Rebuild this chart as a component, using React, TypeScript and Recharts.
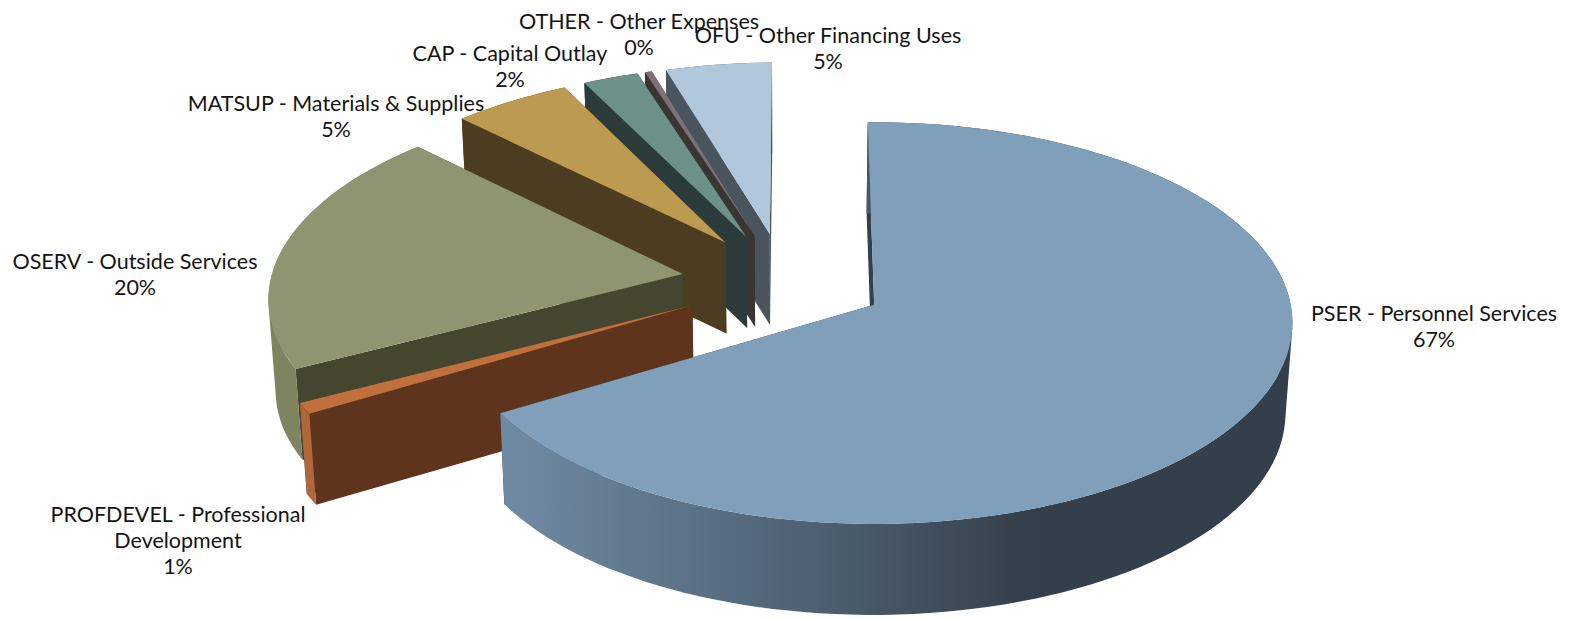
import React from "react";
import { PieChart, Pie } from "recharts";

// Listed back to front: the pie runs counter-clockwise from the top, so
// later slices paint over earlier ones.
const categories = [
  "OFU - Other Financing Uses",
  "OTHER - Other Expenses",
  "CAP - Capital Outlay",
  "MATSUP - Materials & Supplies",
  "OSERV - Outside Services",
  "PROFDEVEL - Professional\nDevelopment",
  "PSER - Personnel Services",
];
const shares = [4.6, 0.3, 2.4, 5.1, 20.1, 0.9, 66.6];

const topColors = ["#b1c7dc", "#7d7076", "#6b9188", "#bc9b50", "#8f9570", "#c0703c", "#7f9fba"];
const wallColors = ["#49545f", "#393533", "#2b3b39", "#4c3d20", "#44462f", "#5f341d", "#333f4a"];
const rimColors = ["#49545f", "#393533", "#2b3b39", "#4c3d20", "#7e8360", "#b0683a", "url(#pserRim)"];

// label centre for each slice, first line
const labelX = [828, 639, 510, 336, 135, 178, 1434];
const labelY = [38, 24, 56, 106, 264, 517, 316];

const CX = 784;
const CY = 281;
const RADIUS = 412;
const SQUASH = 0.473;
const PERSPECTIVE = 0.09;
const EXPLODE = 0.25;
const VANISH_X = 0.225;
const WALL = 91;
const WALL_SHRINK = 0.986;
const WALL_VANISH = 790;

type Pt = [number, number];

const project = (wx: number, wz: number, lower: boolean): Pt => {
  const s = 1 / (1 - PERSPECTIVE * wz);
  let x = CX + RADIUS * VANISH_X + RADIUS * (wx - VANISH_X) * s;
  let y = CY + RADIUS * SQUASH * wz * s;
  if (lower) {
    x = WALL_VANISH + (x - WALL_VANISH) * WALL_SHRINK;
    y += WALL;
  }
  return [x, y];
};

const toPath = (pts: Pt[]) =>
  "M" + pts.map((p) => `${p[0].toFixed(1)},${p[1].toFixed(1)}`).join("L") + "Z";

// same winding for every quad, so a nonzero fill never cancels an overlap
const clockwise = (pts: Pt[]) => {
  let area = 0;
  pts.forEach((p, i) => {
    const q = pts[(i + 1) % pts.length];
    area += p[0] * q[1] - q[0] * p[1];
  });
  return area < 0 ? [...pts].reverse() : pts;
};

function Slice3D(props: any) {
  const { startAngle, endAngle, index } = props;
  const mid = ((startAngle + endAngle) / 2) * (Math.PI / 180);
  const ox = Math.cos(mid) * EXPLODE;
  const oz = -Math.sin(mid) * EXPLODE;

  // sample the arc of this slice
  const steps = Math.max(2, Math.ceil(Math.abs(endAngle - startAngle) / 2));
  const arc = (lower: boolean) => {
    const pts: Pt[] = [];
    for (let i = 0; i <= steps; i++) {
      const a = (startAngle + ((endAngle - startAngle) * i) / steps) * (Math.PI / 180);
      pts.push(project(ox + Math.cos(a), oz - Math.sin(a), lower));
    }
    return pts;
  };

  const topArc = arc(false);
  const lowArc = arc(true);
  const apexTop = project(ox, oz, false);
  const apexLow = project(ox, oz, true);
  const wall = wallColors[index];

  // rim as a strip of quads, so its side follows the silhouette
  const rimPath = topArc
    .slice(0, steps)
    .map((p, i) => toPath(clockwise([p, topArc[i + 1], lowArc[i + 1], lowArc[i]])))
    .join("");

  return (
    <g>
      <defs>
        <linearGradient id="pserRim" gradientUnits="userSpaceOnUse" x1={502} y1={0} x2={1040} y2={0}>
          <stop offset="0" stopColor="#6f8ba3" />
          <stop offset="0.45" stopColor="#566a7d" />
          <stop offset="1" stopColor="#333f4a" />
        </linearGradient>
      </defs>
      <path d={toPath([apexTop, topArc[0], lowArc[0], apexLow])} fill={wall} />
      <path d={toPath([apexTop, topArc[steps], lowArc[steps], apexLow])} fill={wall} />
      <path d={rimPath} fill={rimColors[index]} />
      <path d={toPath([apexTop, ...topArc])} fill={topColors[index]} />
    </g>
  );
}

function SliceLabel(props: any) {
  const { index, percent } = props;
  const lines = [...categories[index].split("\n"), `${Math.round(percent * 100)}%`];
  return (
    <text
      textAnchor="middle"
      fontFamily="Lato, sans-serif"
      fontSize={21.5}
      fill="#141414"
    >
      {lines.map((line, i) => (
        <tspan key={i} x={labelX[index]} y={labelY[index] + i * 25.7} dominantBaseline="middle">
          {line}
        </tspan>
      ))}
    </text>
  );
}

const data = categories.map((name, i) => ({ name, value: shares[i] }));

export default function App() {
  return (
    <div style={{ position: "absolute", left: 0, top: 0, width: 1575, height: 619, background: "#fff" }}>
      <PieChart width={1575} height={619} margin={{ top: 0, right: 0, bottom: 0, left: 0 }}>
        <Pie
          data={data}
          dataKey="value"
          nameKey="name"
          cx={CX}
          cy={CY}
          innerRadius={0}
          outerRadius={RADIUS}
          startAngle={91}
          endAngle={451}
          stroke="none"
          shape={Slice3D}
          label={SliceLabel}
          labelLine={false}
          isAnimationActive={false}
        />
      </PieChart>
    </div>
  );
}
